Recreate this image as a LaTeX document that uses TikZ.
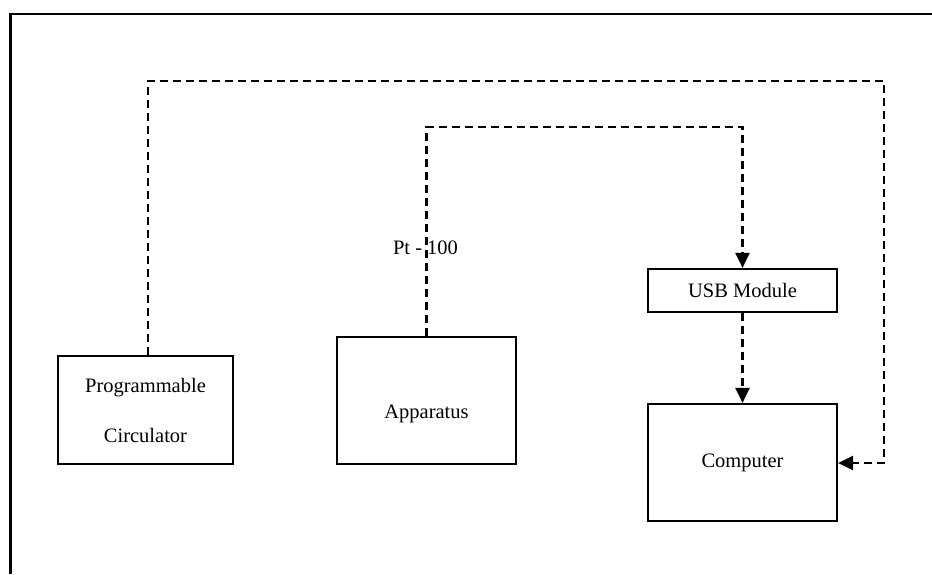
\documentclass[tikz,border=0pt]{standalone}
\usepackage{fontspec}
\setmainfont{Liberation Serif}
\usetikzlibrary{arrows.meta}
\begin{document}
\begin{tikzpicture}[x=1pt,y=-1pt,
  blk/.style={draw=black,line width=2.2pt,rectangle,inner sep=0pt,align=center,
    font=\fontsize{20.5}{50}\selectfont},
  lbl/.style={inner sep=0pt,font=\fontsize{20.5}{24}\selectfont},
  dline/.style={line width=2.3pt,dash pattern=on 8pt off 5pt},
  darr/.style={dline,-{Triangle[length=15pt,width=14pt]}}]
\useasboundingbox (0,0) rectangle (932,574);
% frame (top and left visible)
\draw[line width=2.8pt] (10.5,574) -- (10.5,14) -- (932,14);
% blocks
\node[blk,minimum width=175pt,minimum height=108pt] (circ) at (145.5,410) {Programmable\\Circulator};
\node[blk,minimum width=179pt,minimum height=127pt,text height=40pt,text depth=3.4pt] (app) at (426.5,400.5) {Apparatus};
\node[blk,minimum width=189pt,minimum height=43pt] (usb) at (742.5,290.5) {USB Module};
\node[blk,minimum width=189pt,minimum height=117pt] (comp) at (742.5,462.5) {Computer};
\node[lbl] (pt) at (425.5,248) {Pt - 100};
% connectors
\coordinate (c1) at (148,81);
\coordinate (c2) at (884,81);
\coordinate (c3) at (884,463);
\coordinate (a1) at (426.5,127);
\coordinate (a2) at (742.5,127);
\draw[darr] (circ.north -| c1) -- (c1) -- (c2) -- (c3) -- (comp.east |- c3);
\draw[darr] (app.north) -- (a1) -- (a2) -- (usb.north);
\draw[darr] (usb.south) -- (comp.north);
\end{tikzpicture}
\end{document}
